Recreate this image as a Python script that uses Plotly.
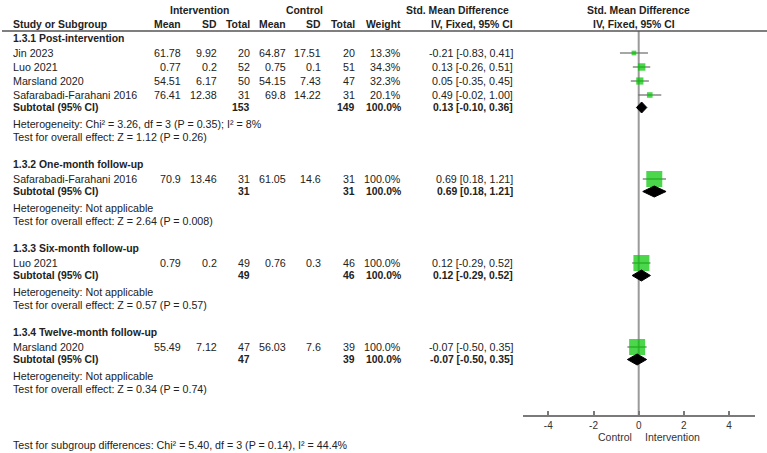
import plotly.graph_objects as go

# ---------------- data ----------------
group_titles = ["1.3.1 Post-intervention", "1.3.2 One-month follow-up",
                "1.3.3 Six-month follow-up", "1.3.4 Twelve-month follow-up"]
study_group = [0, 0, 0, 0, 1, 2, 3]
study_names = ["Jin 2023", "Luo 2021", "Marsland 2020", "Safarabadi-Farahani 2016",
               "Safarabadi-Farahani 2016", "Luo 2021", "Marsland 2020"]
int_mean = [61.78, 0.77, 54.51, 76.41, 70.9, 0.79, 55.49]
int_sd = [9.92, 0.2, 6.17, 12.38, 13.46, 0.2, 7.12]
int_n = [20, 52, 50, 31, 31, 49, 47]
ctl_mean = [64.87, 0.75, 54.15, 69.8, 61.05, 0.76, 56.03]
ctl_sd = [17.51, 0.1, 7.43, 14.22, 14.6, 0.3, 7.6]
ctl_n = [20, 51, 47, 31, 31, 46, 39]
weight = [13.3, 34.3, 32.3, 20.1, 100.0, 100.0, 100.0]
smd = [-0.21, 0.13, 0.05, 0.49, 0.69, 0.12, -0.07]
ci_lo = [-0.83, -0.26, -0.35, -0.02, 0.18, -0.29, -0.50]
ci_hi = [0.41, 0.51, 0.45, 1.00, 1.21, 0.52, 0.35]

sub_int_n = [153, 31, 49, 47]
sub_ctl_n = [149, 31, 46, 39]
sub_weight = [100.0, 100.0, 100.0, 100.0]
sub_smd = [0.13, 0.69, 0.12, -0.07]
sub_lo = [-0.10, 0.18, -0.29, -0.50]
sub_hi = [0.36, 1.21, 0.52, 0.35]
heterogeneity = ["Heterogeneity: Chi\u00b2 = 3.26, df = 3 (P = 0.35); I\u00b2 = 8%",
                 "Heterogeneity: Not applicable",
                 "Heterogeneity: Not applicable",
                 "Heterogeneity: Not applicable"]
overall_effect = ["Test for overall effect: Z = 1.12 (P = 0.26)",
                  "Test for overall effect: Z = 2.64 (P = 0.008)",
                  "Test for overall effect: Z = 0.57 (P = 0.57)",
                  "Test for overall effect: Z = 0.34 (P = 0.74)"]
subgroup_test = "Test for subgroup differences: Chi\u00b2 = 5.40, df = 3 (P = 0.14), I\u00b2 = 44.4%"
tick_vals = [-4, -2, 0, 2, 4]
left_label = "Control"
right_label = "Intervention"

# ---------------- layout constants ----------------
W, H = 767, 453
FONT = "Liberation Sans, Arial, sans-serif"
TXT = "#222222"
NORMAL = 10.7
BOLD = 10.4
X0_PX = 638.7
PX_PER_UNIT = 22.6
AX_L, AX_R = 523, 755
AXIS_Y = 416
HEADER_LINE_Y = 31

col_name = 12
col_im, col_isd, col_in = 182, 218, 251
col_cm, col_csd, col_cn = 287, 322, 356
col_w = 402
col_ci = 514

annotations = []


def txt(xp, y, s, anchor="left", bold=False, size=None, color=TXT):
    annotations.append(dict(
        x=xp / W, xref="paper", y=y, yref="y", text=s, showarrow=False,
        xanchor=anchor, yanchor="middle", borderpad=0,
        font=dict(family=FONT, size=size or (BOLD if bold else NORMAL), color=color,
                  weight="bold" if bold else "normal")))


def fmt(v):
    return f"{v:g}"


# headers
txt(199, 10, "Intervention", "center", True)
txt(304, 10, "Control", "center", True)
txt(457, 10, "Std. Mean Difference", "center", True)
txt(638, 10, "Std. Mean Difference", "center", True)
txt(col_name, 24, "Study or Subgroup", "left", True)
for xp, s in [(col_im, "Mean"), (col_isd, "SD"), (col_in, "Total"),
              (col_cm, "Mean"), (col_csd, "SD"), (col_cn, "Total"),
              (col_w, "Weight"), (col_ci, "IV, Fixed, 95% CI")]:
    txt(xp, 24, s, "right", True)
txt(634, 24, "IV, Fixed, 95% CI", "center", True)

# rows
study_y = [None] * len(study_names)
sub_y = []
y = 38
for g, title in enumerate(group_titles):
    txt(col_name, y, title, "left", True)
    idx = [i for i, sg in enumerate(study_group) if sg == g]
    yy = y + 15
    for k, i in enumerate(idx):
        ys = yy + 14 * k
        study_y[i] = ys
        txt(col_name, ys, study_names[i])
        txt(col_im, ys, fmt(int_mean[i]), "right")
        txt(col_isd, ys, fmt(int_sd[i]), "right")
        txt(col_in, ys, str(int_n[i]), "right")
        txt(col_cm, ys, fmt(ctl_mean[i]), "right")
        txt(col_csd, ys, fmt(ctl_sd[i]), "right")
        txt(col_cn, ys, str(ctl_n[i]), "right")
        txt(col_w, ys, f"{weight[i]:.1f}%", "right")
        txt(col_ci, ys, f"{smd[i]:.2f} [{ci_lo[i]:.2f}, {ci_hi[i]:.2f}]", "right")
    last = study_y[idx[-1]]
    ysub = last + 12.5
    sub_y.append(ysub)
    txt(col_name, ysub, "Subtotal (95% CI)", "left", True)
    txt(col_in, ysub, str(sub_int_n[g]), "right", True)
    txt(col_cn, ysub, str(sub_ctl_n[g]), "right", True)
    txt(col_w, ysub, f"{sub_weight[g]:.1f}%", "right", True)
    txt(col_ci, ysub, f"{sub_smd[g]:.2f} [{sub_lo[g]:.2f}, {sub_hi[g]:.2f}]", "right", True)
    yh = ysub + 16
    txt(col_name, yh, heterogeneity[g])
    yt = yh + 13.5
    txt(col_name, yt, overall_effect[g])
    y = yt + 27

txt(col_name, 445, subgroup_test)

# axis side labels
annotations.append(dict(x=0, xref="x", y=437, yref="y", text=left_label, showarrow=False,
                        xanchor="right", yanchor="middle", xshift=-5,
                        font=dict(family=FONT, size=10.5, color="#333")))
annotations.append(dict(x=0, xref="x", y=437, yref="y", text=right_label, showarrow=False,
                        xanchor="left", yanchor="middle", xshift=4,
                        font=dict(family=FONT, size=10.5, color="#333")))

fig = go.Figure()

# zero line
fig.add_trace(go.Scatter(x=[0, 0], y=[HEADER_LINE_Y, AXIS_Y], mode="lines",
                         line=dict(color="#9a9a9a", width=2), hoverinfo="skip",
                         showlegend=False))

# CI lines
cx, cy = [], []
for i in range(len(smd)):
    cx += [ci_lo[i], ci_hi[i], None]
    cy += [study_y[i], study_y[i], None]
fig.add_trace(go.Scatter(x=cx, y=cy, mode="lines", line=dict(color="#6a6a6a", width=1.2),
                         hoverinfo="skip", showlegend=False))

# squares
fig.add_trace(go.Scatter(x=smd, y=study_y, mode="markers",
                         marker=dict(symbol="square", color="#00c400",
                                     size=[3 + 13 * w / 100 for w in weight],
                                     line=dict(width=0)),
                         showlegend=False))

# diamonds
for g in range(len(sub_smd)):
    yc = sub_y[g]
    fig.add_trace(go.Scatter(
        x=[sub_lo[g], sub_smd[g], sub_hi[g], sub_smd[g], sub_lo[g]],
        y=[yc, yc - 5.5, yc, yc + 5.5, yc],
        mode="lines", fill="toself", fillcolor="black",
        line=dict(color="black", width=1), showlegend=False, hoverinfo="skip"))

fig.update_layout(
    width=W, height=H, margin=dict(l=0, r=0, t=0, b=0),
    paper_bgcolor="white", plot_bgcolor="rgba(0,0,0,0)",
    annotations=annotations,
    shapes=[dict(type="line", xref="paper", yref="y", x0=2 / W, x1=1, y0=HEADER_LINE_Y,
                 y1=HEADER_LINE_Y, line=dict(color="#555", width=1.5))],
    xaxis=dict(domain=[AX_L / W, AX_R / W],
               range=[(AX_L - X0_PX) / PX_PER_UNIT, (AX_R - X0_PX) / PX_PER_UNIT],
               anchor="free", position=(H - AXIS_Y) / H,
               showline=True, linecolor="#7a7a7a", linewidth=2,
               ticks="inside", ticklen=4, tickwidth=1.5, tickcolor="#7a7a7a",
               tickvals=tick_vals, ticktext=[str(t) for t in tick_vals],
               tickfont=dict(family=FONT, size=10, color="#333"),
               showgrid=False, zeroline=False, fixedrange=True),
    yaxis=dict(domain=[0, 1], range=[H, 0], visible=False, fixedrange=True),
    showlegend=False,
)

fig.write_html("out.html")
